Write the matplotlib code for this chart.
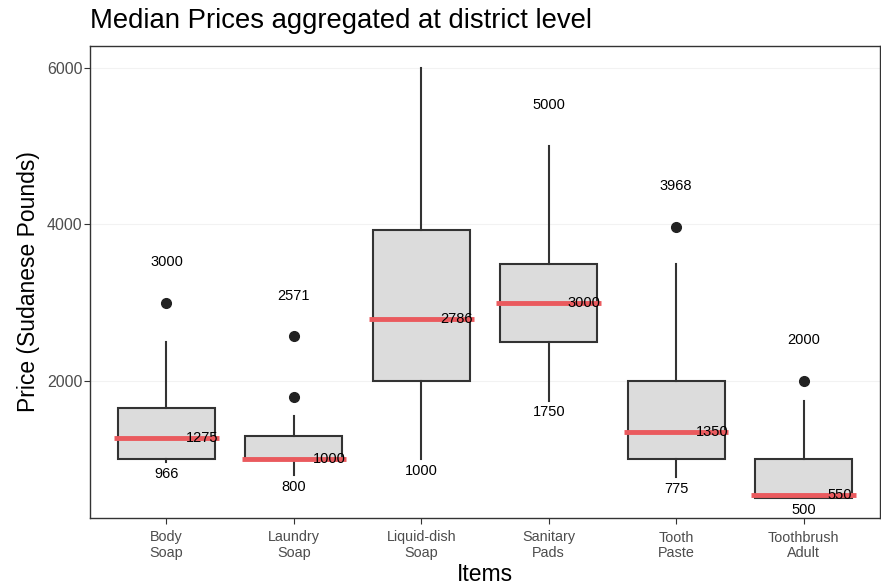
import matplotlib.pyplot as plt

plt.rcParams["font.family"] = ["Liberation Sans", "DejaVu Sans"]

items = ["Body\nSoap", "Laundry\nSoap", "Liquid-dish\nSoap", "Sanitary\nPads", "Tooth\nPaste", "Toothbrush\nAdult"]
q1 = [1000, 1000, 2000, 2500, 1000, 500]
med = [1275, 1000, 2786, 3000, 1350, 550]
q3 = [1650, 1300, 3925, 3500, 2000, 1000]
whis_lo = [966, 800, 1000, 1750, 775, 500]
whis_hi = [2500, 1550, 6000, 5000, 3500, 1750]
outliers = [[3000], [1800, 2571], [], [], [3968], [2000]]
max_price = [3000, 2571, 6000, 5000, 3968, 2000]


def main():
    fig = plt.figure(figsize=(8.81, 5.87), dpi=100)
    ax = fig.add_axes([90 / 881, 69 / 587, 790 / 881, 472 / 587])

    stats = []
    for i in range(len(items)):
        stats.append({"med": med[i], "q1": q1[i], "q3": q3[i],
                      "whislo": whis_lo[i], "whishi": whis_hi[i],
                      "fliers": outliers[i]})
    pos = list(range(1, len(items) + 1))
    ax.bxp(stats, positions=pos, widths=0.76, patch_artist=True, showcaps=False,
           boxprops=dict(facecolor="#DCDCDC", edgecolor="#333333", linewidth=1.5),
           whiskerprops=dict(color="#333333", linewidth=1.5),
           medianprops=dict(color="#333333", linewidth=1.5),
           flierprops=dict(marker="o", markerfacecolor="#222222",
                           markeredgecolor="#222222", markersize=7))

    # red median bars
    for p, m in zip(pos, med):
        ax.plot([p - 0.41, p + 0.41], [m, m], color="#EA5A5E", linewidth=3.5,
                solid_capstyle="butt", zorder=4)
        ax.text(p + 0.28, m, str(m), ha="center", va="center", fontsize=10.5, zorder=5)

    for p, mx, mn in zip(pos, max_price, whis_lo):
        if mx != 6000:
            ax.text(p, mx + 520, str(mx), ha="center", va="center", fontsize=10.5)
        ax.text(p, mn - 150, str(mn), ha="center", va="center", fontsize=10.5)

    ax.set_xlim(0.4, 6.6)
    ax.set_ylim(250, 6280)
    ax.set_yticks([2000, 4000, 6000])
    ax.set_xticks(pos)
    ax.set_xticklabels(items, fontsize=10.4, color="#4D4D4D", linespacing=1.15)
    ax.tick_params(axis="y", labelsize=11.5, labelcolor="#4D4D4D", color="#333333",
                   length=4, pad=1.5)
    ax.tick_params(axis="x", color="#333333", length=4, pad=5)
    ax.grid(axis="y", color="#F2F2F2", linewidth=0.8)
    ax.set_axisbelow(True)
    for s in ax.spines.values():
        s.set_color("#333333")
        s.set_linewidth(1.0)

    ax.set_xlabel("Items", fontsize=16.5, labelpad=2)
    ax.set_ylabel("Price (Sudanese Pounds)", fontsize=16.5, labelpad=5)
    fig.text(90 / 881, 1 - 21 / 587, "Median Prices aggregated at district level",
             fontsize=19.8, va="center", ha="left")

    fig.savefig("out.png", dpi=100)


if __name__ == "__main__":
    main()
